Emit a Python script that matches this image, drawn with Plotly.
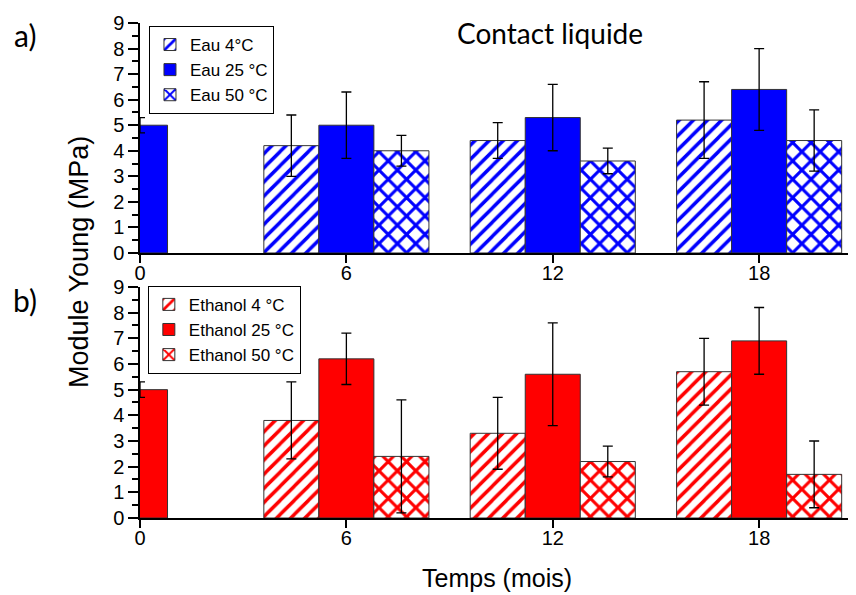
import plotly.graph_objects as go

# ---------------- data ----------------
temps = [0, 6, 12, 18]
tick_labels = ["0", "6", "12", "18"]
y_ticks = list(range(0, 10))

eau_4 = [None, 4.2, 4.4, 5.2]
eau_4_err = [None, 1.2, 0.7, 1.5]
eau_25 = [5.0, 5.0, 5.3, 6.4]
eau_25_err = [0.3, 1.3, 1.3, 1.6]
eau_50 = [None, 4.0, 3.6, 4.4]
eau_50_err = [None, 0.6, 0.5, 1.2]

eth_4 = [None, 3.8, 3.3, 5.7]
eth_4_err = [None, 1.5, 1.4, 1.3]
eth_25 = [5.0, 6.2, 5.6, 6.9]
eth_25_err = [0.3, 1.0, 2.0, 1.3]
eth_50 = [None, 2.4, 2.2, 1.7]
eth_50_err = [None, 2.2, 0.6, 1.3]

names_eau = ["Eau 4°C", "Eau 25 °C", "Eau 50 °C"]
names_eth = ["Ethanol 4 °C", "Ethanol 25 °C", "Ethanol 50 °C"]

BLUE = "#0000FF"
RED = "#FF0000"
FONT = "Liberation Sans, Arial, sans-serif"
CAL = "Lato, sans-serif"

fig = go.Figure()


def add_bar(vals, errs, name, color, shape, xa, ya, legend):
    marker = dict(line=dict(color="#333333", width=1))
    if shape is None:
        marker["color"] = color
    else:
        marker["color"] = "white"
        marker["pattern"] = dict(shape=shape, fgcolor=color, bgcolor="white",
                                 fgopacity=1,
                                 size=10 if shape == "/" else 13,
                                 solidity=0.35 if shape == "/" else 0.42)
    fig.add_trace(go.Bar(
        x=temps, y=vals, name=name, marker=marker,
        error_y=dict(type="data", array=errs, color="black", thickness=1.3, width=5),
        xaxis=xa, yaxis=ya, legend=legend,
    ))


add_bar(eau_4, eau_4_err, names_eau[0], BLUE, "/", "x", "y", "legend")
add_bar(eau_25, eau_25_err, names_eau[1], BLUE, None, "x", "y", "legend")
add_bar(eau_50, eau_50_err, names_eau[2], BLUE, "x", "x", "y", "legend")
add_bar(eth_4, eth_4_err, names_eth[0], RED, "/", "x2", "y2", "legend2")
add_bar(eth_25, eth_25_err, names_eth[1], RED, None, "x2", "y2", "legend2")
add_bar(eth_50, eth_50_err, names_eth[2], RED, "x", "x2", "y2", "legend2")

xcommon = dict(range=[0, 20.7], tickvals=temps, ticktext=tick_labels,
               ticks="outside", ticklen=8, tickwidth=1.5, tickcolor="black",
               ticklabelstandoff=-7,
               showline=True, linecolor="black", linewidth=2,
               showgrid=False, zeroline=False,
               tickfont=dict(family=FONT, size=20, color="black"))
ycommon = dict(range=[0, 9], tickvals=y_ticks, ticks="outside", ticklen=10,
               tickwidth=1.5, tickcolor="black",
               minor=dict(dtick=0.5, ticks="outside", ticklen=6, tickwidth=1.5,
                          tickcolor="black"),
               showline=True, linecolor="black", linewidth=1.5,
               showgrid=False, zeroline=False,
               tickfont=dict(family=FONT, size=20, color="black"))

y_top_dom = [0.5354, 1.0]
y_bot_dom = [0.0, 0.4667]

# page body adds an 8px margin; figure is sized/placed to compensate
fig.update_layout(
    width=848, height=587,
    margin=dict(l=132, r=4, t=15, b=77),
    paper_bgcolor="white", plot_bgcolor="white",
    barmode="group", bargap=0.2, bargroupgap=0,
    xaxis=dict(**xcommon, anchor="y"),
    yaxis=dict(**ycommon, domain=y_top_dom, anchor="x"),
    xaxis2=dict(**xcommon, anchor="y2"),
    yaxis2=dict(**ycommon, domain=y_bot_dom, anchor="x2"),
    legend=dict(x=0.0126, y=0.994, xanchor="left", yanchor="top",
                bgcolor="white", bordercolor="black", borderwidth=1,
                font=dict(family=FONT, size=17, color="black"),
                tracegroupgap=0, itemwidth=30),
    legend2=dict(x=0.011, y=0.469, xanchor="left", yanchor="top",
                 bgcolor="white", bordercolor="black", borderwidth=1,
                 font=dict(family=FONT, size=17, color="black"),
                 tracegroupgap=0, itemwidth=30),
    showlegend=True,
)


def px_x(x):
    return (x - 140) / 712


def px_y(y):
    return (518 - y) / 495


fig.update_layout(annotations=[
    dict(text="Contact liquide", x=px_x(550), y=px_y(33),
         xref="paper", yref="paper", showarrow=False,
         xanchor="center", yanchor="middle",
         font=dict(family=CAL, size=28, color="black")),
    dict(text="a)", x=px_x(25), y=px_y(35),
         xref="paper", yref="paper", showarrow=False,
         xanchor="center", yanchor="middle",
         font=dict(family=CAL, size=30, color="black")),
    dict(text="b)", x=px_x(25), y=px_y(300),
         xref="paper", yref="paper", showarrow=False,
         xanchor="center", yanchor="middle",
         font=dict(family=CAL, size=30, color="black")),
    dict(text="Module Young (MPa)", x=px_x(79), y=px_y(262),
         xref="paper", yref="paper", showarrow=False, textangle=-90,
         xanchor="center", yanchor="middle",
         font=dict(family=FONT, size=27, color="black")),
    dict(text="Temps (mois)", x=px_x(497), y=px_y(578),
         xref="paper", yref="paper", showarrow=False,
         xanchor="center", yanchor="middle",
         font=dict(family=FONT, size=25, color="black")),
])

fig.write_html("out.html")
